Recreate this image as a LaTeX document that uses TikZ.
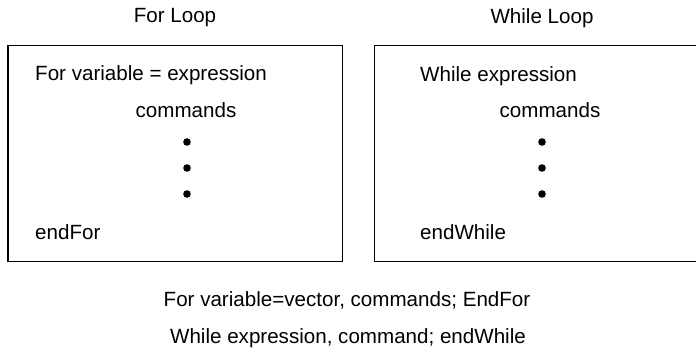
\documentclass[tikz,border=0pt]{standalone}
\usepackage{fontspec}
\setmainfont{Liberation Sans}
\usepackage{tikz}
\usetikzlibrary{positioning}

\begin{document}
\begin{tikzpicture}[x=0.035cm,y=0.035cm,
    txt/.style={inner sep=0pt,font=\fontsize{20.5}{24}\selectfont},
    codeline/.style={txt,anchor=west},
    dotmark/.style={fill=black}]
  \useasboundingbox (0,0) rectangle (696,353);
  % titles
  \node[txt] (fortitle) at (175,335) {For Loop};
  \node[txt] (whiletitle) at (542,335) {While Loop};
  % for loop box
  \draw[line width=1pt] (8,91) rectangle (342,307);
  \node[codeline] (forhead) at (35,278) {For variable = expression};
  \node[txt] (forcmd) at (186,243) {commands};
  \foreach \y in {211,185,159}
    \fill[dotmark] (187,\y) circle (3.8);
  \node[codeline] (forend) at (35,121) {endFor};
  % while loop box (open on the right)
  \draw[line width=1pt] (700,307) -- (374,307) -- (374,91) -- (700,91);
  \node[codeline] (whilehead) at (420,277) {While expression};
  \node[txt] (whilecmd) at (550,243) {commands};
  \foreach \y in {211,185,159}
    \fill[dotmark] (542,\y) circle (3.8);
  \node[codeline] (whileend) at (420,121) {endWhile};
  % one-line forms
  \node[txt] (forline) at (347,53) {For variable=vector, commands; EndFor};
  \node[txt] (whileline) at (348,15) {While expression, command; endWhile};
\end{tikzpicture}
\end{document}
